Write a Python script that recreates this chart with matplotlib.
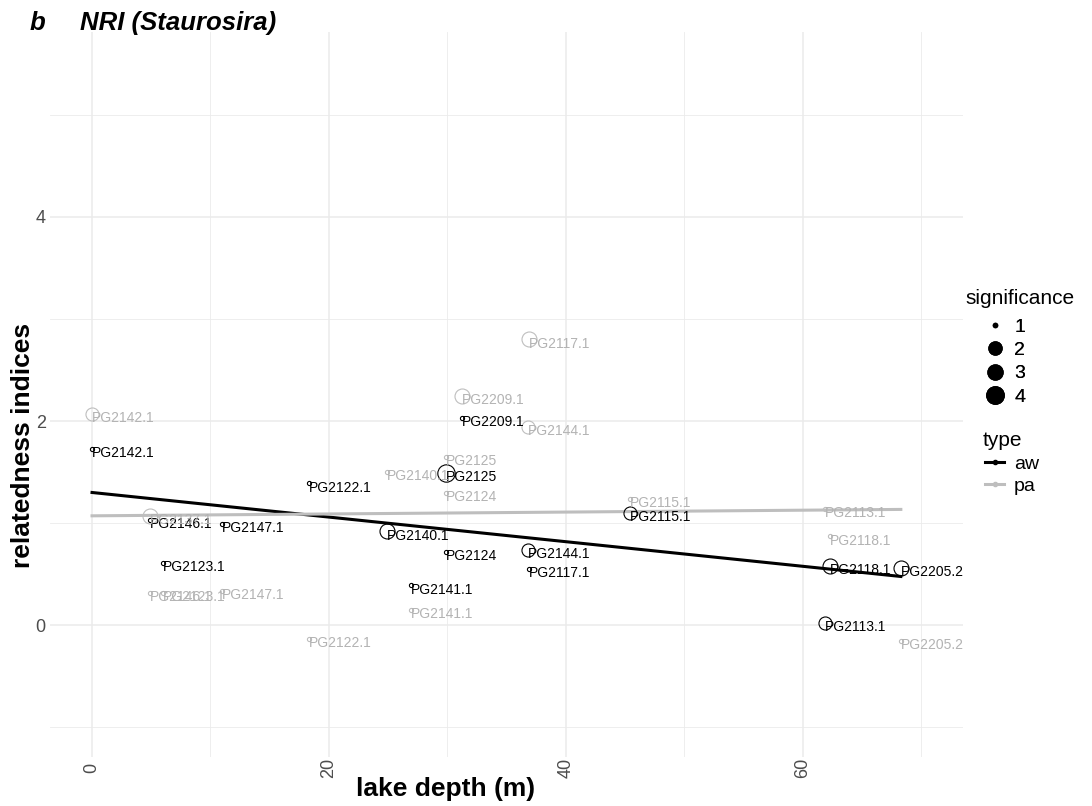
import numpy as np
import matplotlib
matplotlib.use("Agg")
import matplotlib.pyplot as plt
from matplotlib.lines import Line2D

plt.rcParams["font.family"] = ["Liberation Sans", "DejaVu Sans"]

# NRI values, type "aw"
aw_samples = ["PG2142.1", "PG2146.1", "PG2123.1", "PG2147.1", "PG2122.1", "PG2140.1",
              "PG2141.1", "PG2125", "PG2124", "PG2209.1", "PG2144.1", "PG2117.1",
              "PG2115.1", "PG2113.1", "PG2118.1", "PG2205.2"]
aw_depth = [0.0, 4.9, 6.0, 11.0, 18.3, 24.9, 26.9, 29.9, 29.9, 31.2, 36.8, 36.9,
            45.4, 61.9, 62.3, 68.3]
aw_nri = [1.73, 1.03, 0.61, 0.99, 1.39, 0.92, 0.39, 1.49, 0.72, 2.03, 0.74, 0.55,
          1.10, 0.02, 0.58, 0.56]
aw_sig = [1, 1, 1, 1, 1, 3, 1, 4, 1, 1, 2, 1, 2, 2, 3, 3]

# NRI values, type "pa"
pa_samples = ["PG2142.1", "PG2137.1", "PG2146.1", "PG2123.1", "PG2147.1", "PG2122.1",
              "PG2140.1", "PG2141.1", "PG2125", "PG2124", "PG2209.1", "PG2144.1",
              "PG2117.1", "PG2115.1", "PG2113.1", "PG2118.1", "PG2205.2"]
pa_depth = [0.0, 4.9, 4.9, 6.0, 11.0, 18.3, 24.9, 26.9, 29.9, 29.9, 31.2, 36.8,
            36.9, 45.4, 61.9, 62.3, 68.3]
pa_nri = [2.07, 1.07, 0.32, 0.32, 0.34, -0.13, 1.50, 0.15, 1.65, 1.30, 2.25, 1.94,
          2.80, 1.24, 1.14, 0.87, -0.15]
pa_sig = [2, 3, 1, 1, 1, 1, 1, 1, 1, 1, 3, 2, 3, 1, 1, 1, 1]

sig_levels = [1, 2, 3, 4]
size_pt = {1: 3.0, 2: 9.4, 3: 10.8, 4: 12.5}

BLACK = "#000000"
GREY_LINE = "#BEBEBE"
GREY_PT = "#B3B3B3"

W, H = 1092, 806
fig = plt.figure(figsize=(W / 100, H / 100), dpi=100)
ax = fig.add_axes([50 / W, 1 - 757 / H, (963 - 50) / W, (757 - 32) / H])

ax.set_xlim(-3.55, 73.55)
ax.set_ylim(-1.29, 5.81)
ax.set_xticks([0, 20, 40, 60])
ax.set_xticks([10, 30, 50, 70], minor=True)
ax.set_yticks([0, 2, 4])
ax.set_yticks([-1, 1, 3, 5], minor=True)
ax.grid(which="major", color="#EBEBEB", lw=1.1)
ax.grid(which="minor", color="#EBEBEB", lw=0.6)
ax.set_axisbelow(True)
for s in ax.spines.values():
    s.set_visible(False)
ax.tick_params(which="both", length=0)
ax.tick_params(axis="x", labelrotation=90, labelsize=13, labelcolor="#4D4D4D", pad=8)
ax.tick_params(axis="y", labelsize=13, labelcolor="#4D4D4D", pad=3)
for lab in ax.get_xticklabels():
    lab.set_verticalalignment("center")


def draw(depth, nri, sig, samples, col, txtcol):
    d = np.array(depth)
    v = np.array(nri)
    k, b = np.polyfit(d, v, 1)
    xs = np.array([d.min(), d.max()])
    ax.plot(xs, k * xs + b, color=col, lw=2.2, zorder=3)
    for x, y, s, lab in zip(depth, nri, sig, samples):
        ax.plot(x, y, marker="o", ms=size_pt[s], mfc="none", mec=col, mew=0.8,
                ls="none", zorder=4)
        ax.annotate(lab, (x, y), xytext=(0, 2), textcoords="offset points",
                    ha="left", va="top", fontsize=10, color=txtcol, zorder=5)


draw(aw_depth, aw_nri, aw_sig, aw_samples, BLACK, BLACK)
draw(pa_depth, pa_nri, pa_sig, pa_samples, GREY_LINE, GREY_PT)

fig.text(23 / W, 1 - 445 / H, "relatedness indices", rotation=90, ha="center",
         va="center", fontsize=19, fontweight="bold")
fig.text(446 / W, 1 - 789 / H, "lake depth (m)", ha="center", va="center",
         fontsize=19, fontweight="bold")
fig.text(30 / W, 1 - 23 / H, "b", ha="left", va="center", fontsize=18.5,
         fontweight="bold", fontstyle="italic")
fig.text(80 / W, 1 - 23 / H, "NRI (Staurosira)", ha="left", va="center",
         fontsize=18.5, fontweight="bold", fontstyle="italic")

# legends: titles as separate texts, entries through fig.legend
fig.text(965 / W, 1 - 298 / H, "significance", ha="left", va="center", fontsize=15)
sig_handles = [Line2D([], [], marker="o", ls="none", color=BLACK, ms=size_pt[s])
               for s in sig_levels]
leg1 = fig.legend(sig_handles, [str(s) for s in sig_levels], loc="upper left",
                  bbox_to_anchor=(985 / W, 1 - 318 / H), frameon=False, fontsize=14,
                  handlelength=1.0, handletextpad=0.5, labelspacing=0.3,
                  borderaxespad=0, borderpad=0)
fig.text(983 / W, 1 - 440 / H, "type", ha="left", va="center", fontsize=15)
type_handles = [Line2D([], [], marker="o", ms=3, color=BLACK, lw=2.2),
                Line2D([], [], marker="o", ms=3, color=GREY_LINE, lw=2.2)]
leg2 = fig.legend(type_handles, ["aw", "pa"], loc="upper left",
                  bbox_to_anchor=(985 / W, 1 - 455 / H), frameon=False, fontsize=14,
                  handlelength=1.0, handletextpad=0.5, labelspacing=0.25,
                  borderaxespad=0, borderpad=0)
fig.add_artist(leg1)

fig.savefig("out.png", dpi=100)
